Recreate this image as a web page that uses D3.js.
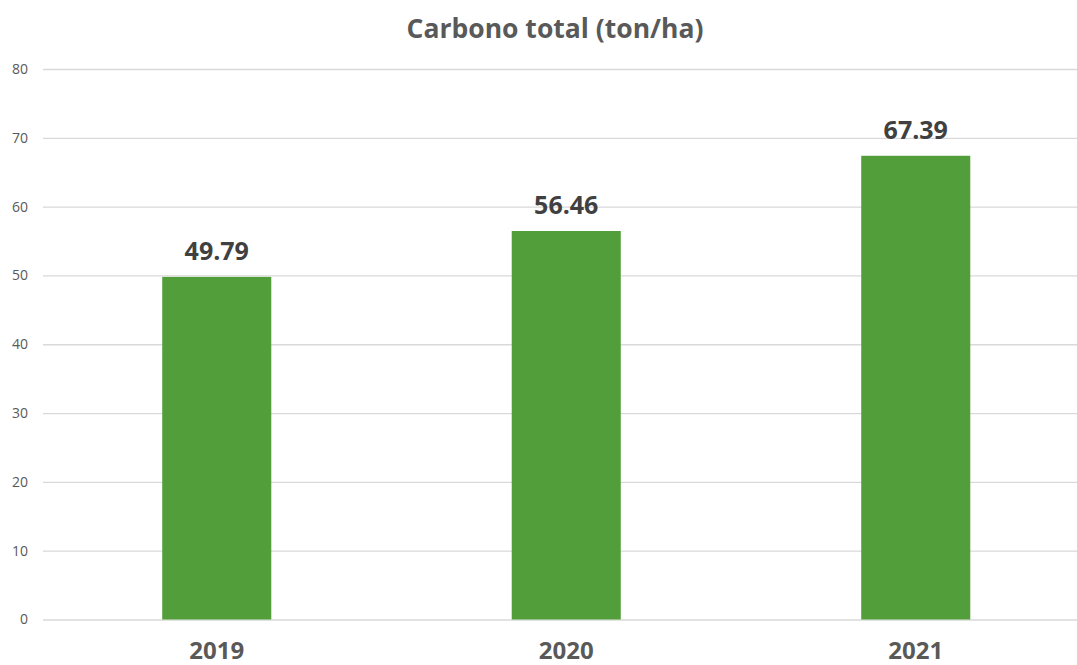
<!DOCTYPE html>
<html>
<head>
<meta charset="utf-8">
<script src="https://cdn.jsdelivr.net/npm/d3@7"></script>
<style>
  html, body { margin: 0; padding: 0; background: #fff; }
  svg { display: block; }
</style>
</head>
<body>
<svg id="chart" width="1077" height="665"></svg>
<script>
const years = ["2019", "2020", "2021"];
const carbon = [49.79, 56.46, 67.39];
const yTicks = [0, 10, 20, 30, 40, 50, 60, 70, 80];
const title = "Carbono total (ton/ha)";

const svg = d3.select("#chart");
const W = 1077, H = 665;
const margin = { top: 69, right: 0, bottom: 45.5, left: 43 };
const font = "'Open Sans', 'Liberation Sans', sans-serif";

// category bands span slightly past the right edge of the frame
const x = d3.scaleBand()
  .domain(years)
  .range([42, 1090.5])
  .paddingInner(0.688)
  .paddingOuter(0.344);

const y = d3.scaleLinear()
  .domain([0, 80])
  .range([H - margin.bottom, margin.top]);

// horizontal gridlines with tick labels
const yAxis = d3.axisLeft(y)
  .tickValues(yTicks)
  .tickSize(-(W - margin.left - margin.right))
  .tickPadding(15)
  .tickFormat(d3.format("d"));

const gy = svg.append("g")
  .attr("transform", `translate(${margin.left},0)`)
  .call(yAxis);
gy.select(".domain").remove();
gy.selectAll(".tick line").attr("stroke", "#d9d9d9").attr("stroke-width", 1.3);
gy.selectAll(".tick text")
  .attr("fill", "#595959")
  .style("font-family", font)
  .style("font-size", "14px");

// bars
svg.append("g").selectAll("rect")
  .data(years)
  .join("rect")
  .attr("x", d => x(d))
  .attr("width", x.bandwidth())
  .attr("y", (d, i) => y(carbon[i]))
  .attr("height", (d, i) => y(0) - y(carbon[i]))
  .attr("fill", "#529e3a");

// value labels
svg.append("g").selectAll("text")
  .data(years)
  .join("text")
  .attr("x", d => x(d) + x.bandwidth() / 2)
  .attr("y", (d, i) => y(carbon[i]) - 17)
  .attr("text-anchor", "middle")
  .attr("fill", "#404040")
  .style("font-family", font)
  .style("font-weight", "bold")
  .style("font-size", "25px")
  .text((d, i) => carbon[i].toFixed(2));

// category labels
const xAxis = d3.axisBottom(x).tickSize(0);
const gx = svg.append("g")
  .attr("transform", `translate(0,${y(0)})`)
  .call(xAxis);
gx.select(".domain").remove();
gx.selectAll(".tick text")
  .attr("y", 39.5)
  .attr("dy", null)
  .attr("fill", "#595959")
  .style("font-family", font)
  .style("font-weight", "bold")
  .style("font-size", "24px");

// title
svg.append("text")
  .attr("x", 555)
  .attr("y", 38)
  .attr("text-anchor", "middle")
  .attr("fill", "#595959")
  .style("font-family", font)
  .style("font-weight", "bold")
  .style("font-size", "26.5px")
  .text(title);
</script>
</body>
</html>
